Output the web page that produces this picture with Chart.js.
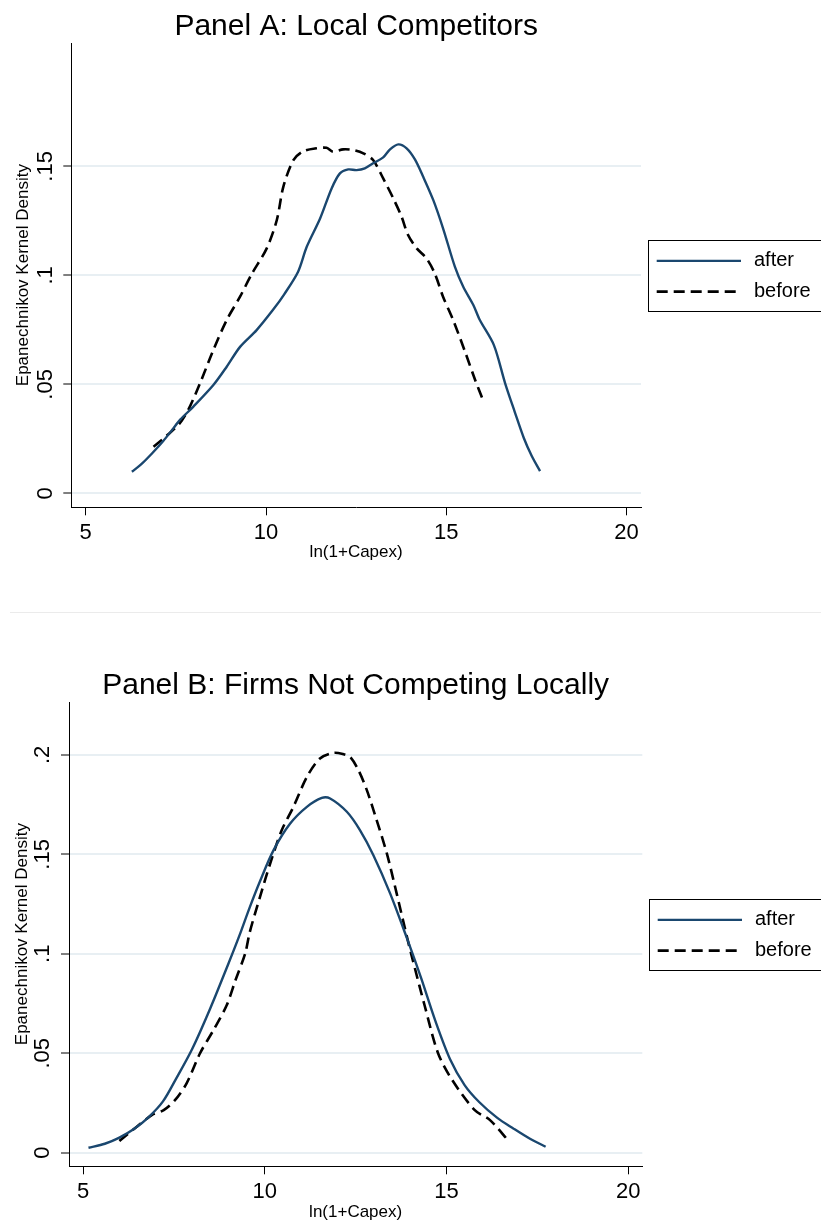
<!DOCTYPE html>
<html>
<head>
<meta charset="utf-8">
<script src="https://cdn.jsdelivr.net/npm/chart.js@4.4.1/dist/chart.umd.min.js"></script>
<style>
  html, body { margin: 0; padding: 0; background: #fff; }
  body { width: 821px; height: 1221px; position: relative; overflow: hidden; }
  #wrapA { position: absolute; left: 0; top: 0; width: 821px; height: 612px; }
  #sep { position: absolute; left: 10px; top: 612px; width: 811px; height: 1px; background: #ebebeb; }
  #wrapB { position: absolute; left: 0; top: 613px; width: 821px; height: 608px; }
</style>
</head>
<body>
<div id="wrapA"><canvas id="panelA" width="821" height="612"></canvas></div>
<div id="sep"></div>
<div id="wrapB"><canvas id="panelB" width="821" height="608"></canvas></div>
<script>
var FONT = "'Liberation Sans', Arial, Helvetica, sans-serif";
var NAVY = '#1a476f';

// axis ticks
var xTicks = [5, 10, 15, 20];
var yTicksA = [0, 0.05, 0.1, 0.15];
var yTickLabelsA = ['0', '.05', '.1', '.15'];
var yTicksB = [0, 0.05, 0.1, 0.15, 0.2];
var yTickLabelsB = ['0', '.05', '.1', '.15', '.2'];
var seriesNames = ['after', 'before'];

// Panel A: Local Competitors
var capexAfterA = [6.28, 6.55, 6.85, 7.15, 7.4, 7.62, 7.98, 8.54, 8.91, 9.28, 9.74, 10.2, 10.5, 10.89,
  11.13, 11.5, 11.82, 12.05, 12.28, 12.51, 12.74, 12.97, 13.25, 13.44, 13.67, 13.9, 14.13, 14.36,
  14.64, 14.91, 15.24, 15.47, 15.75, 15.93, 16.32, 16.63, 16.9, 17.15, 17.37, 17.6];
var densityAfterA = [0.0099, 0.0135, 0.0185, 0.024, 0.0292, 0.0338, 0.0397, 0.0497, 0.0581, 0.0672,
  0.0749, 0.0843, 0.0912, 0.1017, 0.1131, 0.1261, 0.1399, 0.1468, 0.1486, 0.1483, 0.1491, 0.1514,
  0.1541, 0.1578, 0.1601, 0.1583, 0.1532, 0.1452, 0.1345, 0.1216, 0.1039, 0.0948, 0.0864, 0.0795,
  0.068, 0.0506, 0.0373, 0.0254, 0.0171, 0.0102];
var capexBeforeA = [6.88, 7.25, 7.6, 7.85, 8.17, 8.54, 8.91, 9.28, 9.6, 10.02, 10.3, 10.48, 10.76,
  11.03, 11.4, 11.68, 11.86, 12.14, 12.42, 12.7, 12.97, 13.25, 13.53, 13.76, 13.94, 14.18, 14.45,
  14.68, 14.91, 15.19, 15.52, 15.8, 15.99];
var densityBeforeA = [0.0214, 0.0265, 0.032, 0.0385, 0.0505, 0.0658, 0.0795, 0.0902, 0.1005, 0.1124,
  0.1254, 0.1406, 0.1529, 0.1569, 0.1583, 0.1585, 0.1567, 0.1578, 0.1575, 0.156, 0.1529, 0.1445,
  0.1353, 0.1269, 0.1185, 0.1124, 0.1078, 0.1009, 0.0902, 0.0795, 0.065, 0.052, 0.044];

// Panel B: Firms Not Competing Locally
var capexAfterB = [5.15, 5.6, 6.0, 6.4, 6.8, 7.2, 7.54, 8.0, 8.5, 9.0, 9.3, 9.59, 9.87, 10.24, 10.7,
  11.16, 11.57, 11.8, 12.26, 12.62, 12.99, 13.45, 13.91, 14.3, 14.7, 15.1, 15.5, 15.9, 16.4,
  16.84, 17.3, 17.73];
var densityAfterB = [0.0025, 0.0045, 0.0076, 0.0119, 0.0178, 0.0258, 0.0365, 0.052, 0.0725, 0.095,
  0.109, 0.1235, 0.1365, 0.152, 0.1655, 0.1739, 0.1784, 0.1781, 0.1714, 0.1622, 0.1496, 0.1304,
  0.108, 0.088, 0.066, 0.047, 0.034, 0.0255, 0.0175, 0.0122, 0.007, 0.003];
var capexBeforeB = [6.0, 6.48, 6.9, 7.22, 7.53, 7.85, 8.22, 8.6, 8.95, 9.2, 9.46, 9.59, 9.87, 10.15,
  10.47, 10.79, 11.16, 11.52, 11.89, 12.16, 12.35, 12.58, 12.81, 13.08, 13.36, 13.63, 13.91, 14.03,
  14.4, 14.77, 15.16, 15.78, 16.2, 16.73];
var densityBeforeB = [0.0059, 0.0131, 0.019, 0.0214, 0.0264, 0.0349, 0.05, 0.062, 0.074, 0.087, 0.1,
  0.111, 0.1286, 0.1454, 0.1622, 0.1739, 0.1889, 0.1982, 0.201, 0.2004, 0.199, 0.1923, 0.1823, 0.1672,
  0.1505, 0.1304, 0.1088, 0.1, 0.074, 0.05, 0.0365, 0.0214, 0.0164, 0.0055];

function pairs(xs, ys) {
  return xs.map(function (x, i) { return { x: x, y: ys[i] }; });
}

function makeSets(xa, ya, xb, yb) {
  return [{
    label: seriesNames[0],
    data: pairs(xa, ya),
    borderColor: NAVY,
    borderWidth: 2.4
  }, {
    label: seriesNames[1],
    data: pairs(xb, yb),
    borderColor: '#000',
    borderWidth: 2.6,
    borderDash: [11, 6]
  }];
}

// stata style boxed legend at the right of the plot
var legendBox = {
  id: 'legendBox',
  afterDraw: function (chart) {
    var ctx = chart.ctx;
    var area = chart.chartArea;
    var mid = (area.top + area.bottom) / 2;
    var left = Math.round(area.right + 7);
    ctx.save();
    ctx.strokeStyle = '#000';
    ctx.lineWidth = 1;
    ctx.strokeRect(left + 0.5, Math.round(mid - 35.5) + 0.5, 220, 71);
    chart.data.datasets.forEach(function (ds, i) {
      var y = mid - 14.3 + i * 30.8;
      ctx.beginPath();
      ctx.setLineDash(ds.borderDash || []);
      ctx.strokeStyle = ds.borderColor;
      ctx.lineWidth = ds.borderWidth;
      ctx.moveTo(left + 8.7, y);
      ctx.lineTo(left + 93, y);
      ctx.stroke();
      ctx.setLineDash([]);
      ctx.fillStyle = '#000';
      ctx.font = '20px ' + FONT;
      ctx.textBaseline = 'middle';
      ctx.textAlign = 'left';
      ctx.fillText(ds.label, left + 106, y);
    });
    ctx.restore();
  }
};

function makeChart(id, title, yTicks, yLabels, datasets, box) {
  return new Chart(document.getElementById(id), {
    type: 'line',
    data: { datasets: datasets },
    plugins: [legendBox],
    options: {
      responsive: false,
      animation: false,
      devicePixelRatio: 1,
      layout: {
        autoPadding: false,
        padding: { top: box.padTop, left: 0, right: box.padRight, bottom: box.padBottom }
      },
      elements: { point: { radius: 0 }, line: { tension: 0.3, fill: false } },
      plugins: {
        legend: { display: false },
        tooltip: { enabled: false },
        title: {
          display: true,
          text: title,
          fullSize: false,
          color: '#000',
          font: { family: FONT, size: 30, weight: 'normal', lineHeight: 1 },
          padding: { top: 12, bottom: 1 }
        }
      },
      scales: {
        x: {
          type: 'linear',
          min: box.xMin,
          max: box.xMax,
          afterBuildTicks: function (s) {
            s.ticks = xTicks.map(function (v) { return { value: v }; });
          },
          afterFit: function (s) { s.height = box.xHeight; },
          ticks: {
            color: '#000',
            padding: 4,
            autoSkip: false,
            maxRotation: 0,
            font: { family: FONT, size: 22 },
            callback: function (v) { return String(v); }
          },
          grid: { drawOnChartArea: false, tickLength: 8, tickColor: '#000', tickWidth: 1 },
          border: { color: '#000', width: 1 },
          title: {
            display: true,
            text: 'ln(1+Capex)',
            color: '#000',
            font: { family: FONT, size: 17, lineHeight: 1 },
            padding: { top: 0, bottom: 0 }
          }
        },
        y: {
          type: 'linear',
          min: box.yMin,
          max: box.yMax,
          afterBuildTicks: function (s) {
            s.ticks = yTicks.map(function (v) { return { value: v }; });
          },
          afterFit: function (s) { s.width = box.yWidth; },
          ticks: {
            color: '#000',
            padding: 2.5,
            autoSkip: false,
            minRotation: 90,
            maxRotation: 90,
            crossAlign: 'center',
            font: { family: FONT, size: 22 },
            callback: function (v, i) { return yLabels[i]; }
          },
          grid: { color: '#e8eff3', lineWidth: 2, tickLength: 8, tickColor: '#000', tickWidth: 1 },
          border: { color: '#000', width: 1 },
          title: {
            display: true,
            text: 'Epanechnikov Kernel Density',
            color: '#000',
            font: { family: FONT, size: 17, lineHeight: 1.2 },
            padding: { top: box.yTitlePad, bottom: 0 }
          }
        }
      }
    }
  });
}

makeChart('panelA', 'Panel A: Local Competitors', yTicksA, yTickLabelsA,
  makeSets(capexAfterA, densityAfterA, capexBeforeA, densityBeforeA),
  { padTop: 0, padRight: 180, padBottom: 50.8, xHeight: 53.9, yWidth: 71.3, yTitlePad: 13.5,
    xMin: 4.60, xMax: 20.40, yMin: -0.0064, yMax: 0.2066 });

makeChart('panelB', 'Panel B: Firms Not Competing Locally', yTicksB, yTickLabelsB,
  makeSets(capexAfterB, densityAfterB, capexBeforeB, densityBeforeB),
  { padTop: 46, padRight: 178.7, padBottom: 0, xHeight: 54.7, yWidth: 69, yTitlePad: 12,
    xMin: 4.614, xMax: 20.39, yMin: -0.00683, yMax: 0.2266 });
</script>
</body>
</html>
